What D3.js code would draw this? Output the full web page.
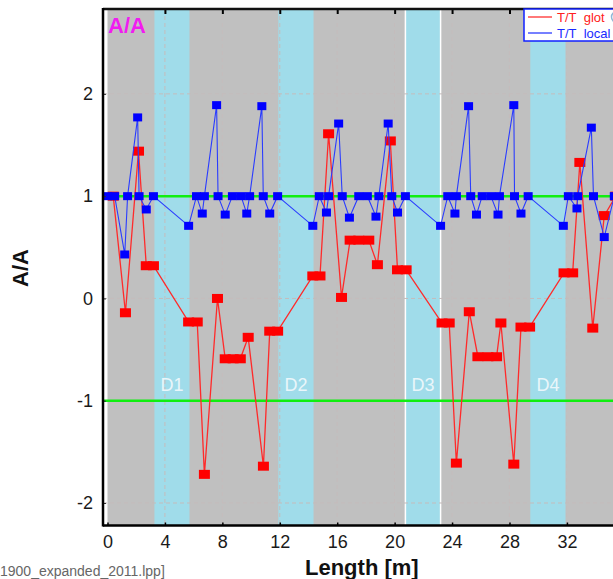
<!DOCTYPE html>
<html>
<head>
<meta charset="utf-8">
<script src="https://cdn.jsdelivr.net/npm/d3@7"></script>
<style>
  body { margin: 0; background: #fff; }
  svg { display: block; font-family: Arial, "Liberation Sans", sans-serif; }
</style>
</head>
<body>
<div id="container"></div>
<script>
// data
const xTicks = [0, 4, 8, 12, 16, 20, 24, 28, 32]
const yTicks = [-2, -1, 0, 1, 2]
const refLines = [1, -1]

const bandNames = ["D1", "D2", "D3", "D4"]
const bandStart = [3.27, 11.9, 20.75, 29.45]
const bandEnd = [5.71, 14.35, 23.2, 31.9]
const whiteLines = [20.75, 23.2]

// T/T glot (red)
const glotX = [0.4, 1.25, 2.16, 2.7, 3.2, 5.65, 6.25, 6.75, 7.66, 8.2, 8.75, 9.25, 9.8, 10.86, 11.3, 11.85,
  14.3, 14.8, 15.4, 16.3, 16.9, 17.5, 18.2, 18.8, 19.7, 20.2, 20.8, 23.3, 23.8, 24.3, 25.2, 25.8, 26.5,
  27.1, 27.4, 28.3, 28.8, 29.4, 31.8, 32.4, 32.9, 33.8, 34.6, 35.4]
const glotY = [1.0, -0.14, 1.44, 0.32, 0.32, -0.23, -0.23, -1.72, 0.0, -0.59, -0.59, -0.59, -0.38, -1.64, -0.32, -0.32,
  0.22, 0.22, 1.61, 0.01, 0.57, 0.57, 0.57, 0.33, 1.54, 0.28, 0.28, -0.24, -0.24, -1.61, -0.13, -0.57, -0.57,
  -0.57, -0.24, -1.62, -0.28, -0.28, 0.25, 0.25, 1.33, -0.29, 0.81, 1.0]

// T/T local (blue)
const localX = [0.0, 0.5, 1.2, 1.4, 2.1, 2.2, 2.7, 3.2, 5.65, 6.2, 6.6, 6.75, 7.6, 7.7, 8.2, 8.7, 9.3, 9.7, 9.9,
  10.75, 10.85, 11.3, 11.85, 14.3, 14.75, 15.25, 15.4, 16.1, 16.35, 16.85, 17.5, 18.1, 18.7, 18.9, 19.55, 19.8,
  20.2, 20.75, 23.2, 23.7, 24.2, 24.3, 25.15, 25.3, 25.7, 26.1, 26.7, 27.2, 27.3, 28.3, 28.35, 28.8, 29.3,
  31.75, 32.1, 32.7, 32.75, 33.7, 33.85, 34.6, 35.3]
const localY = [1.0, 1.0, 0.43, 1.0, 1.77, 1.0, 0.87, 1.0, 0.71, 1.0, 0.83, 1.0, 1.89, 1.0, 0.82, 1.0, 1.0, 0.83, 1.0,
  1.88, 1.0, 0.83, 1.0, 0.71, 1.0, 0.84, 1.0, 1.71, 1.0, 0.79, 1.0, 1.0, 0.8, 1.0, 1.71, 1.0,
  0.84, 1.0, 0.71, 1.0, 0.83, 1.0, 1.88, 1.0, 0.82, 1.0, 1.0, 0.82, 1.0, 1.89, 1.0, 0.83, 1.0,
  0.71, 1.0, 0.88, 1.0, 1.67, 1.0, 0.6, 1.0]

const width = 613, height = 579
const plotLeft = 103, plotTop = 9, plotBottom = 525.5

let svg = d3.select("#container").append("svg")
  .attr("width", width)
  .attr("height", height)

let x = d3.scaleLinear().domain([0, 36]).range([107.5, 107.5 + 36 * 14.357])
let y = d3.scaleLinear().domain([-2.22, 2.83]).range([plotBottom, plotTop])

//clip for plot area
svg.append("clipPath").attr("id", "plot")
  .append("rect").attr("x", plotLeft).attr("y", plotTop).attr("width", width - plotLeft).attr("height", plotBottom - plotTop)

let plot = svg.append("g").attr("clip-path", "url(#plot)")

//backgrounds
plot.append("rect")
  .attr("x", x(0)).attr("y", plotTop)
  .attr("width", width - x(0)).attr("height", plotBottom - plotTop)
  .attr("fill", "#c0c0c0")

plot.selectAll(".band")
  .data(bandNames)
  .enter().append("rect")
  .attr("x", (d, i) => x(bandStart[i]))
  .attr("y", plotTop)
  .attr("width", (d, i) => x(bandEnd[i]) - x(bandStart[i]))
  .attr("height", plotBottom - plotTop)
  .attr("fill", "#a0dcea")

plot.selectAll(".wline")
  .data(whiteLines)
  .enter().append("line")
  .attr("x1", d => x(d)).attr("x2", d => x(d))
  .attr("y1", plotTop).attr("y2", plotBottom)
  .attr("stroke", "#fff").attr("stroke-width", 1.5)

//grid
plot.selectAll(".vgrid")
  .data(xTicks.filter(d => d > 0))
  .enter().append("line")
  .attr("x1", d => x(d)).attr("x2", d => x(d))
  .attr("y1", plotTop).attr("y2", plotBottom)
  .attr("stroke", "#c4bcbc").attr("stroke-dasharray", "4,3")

plot.selectAll(".hgrid")
  .data(yTicks)
  .enter().append("line")
  .attr("x1", plotLeft).attr("x2", width)
  .attr("y1", d => y(d)).attr("y2", d => y(d))
  .attr("stroke", "#c4bcbc").attr("stroke-dasharray", "4,3")

//band labels
plot.selectAll(".blabel")
  .data(bandNames)
  .enter().append("text")
  .attr("x", (d, i) => x((bandStart[i] + bandEnd[i]) / 2))
  .attr("y", 391)
  .attr("text-anchor", "middle")
  .attr("font-size", 18)
  .attr("fill", "#eaf6fa")
  .text(d => d)

//green reference lines
plot.selectAll(".ref")
  .data(refLines)
  .enter().append("line")
  .attr("x1", plotLeft).attr("x2", width)
  .attr("y1", d => y(d)).attr("y2", d => y(d))
  .attr("stroke", "#10ee10").attr("stroke-width", 2.5)

//series
const glot = glotX.map((d, i) => [d, glotY[i]])
const local = localX.map((d, i) => [d, localY[i]])
let line = d3.line().x(d => x(d[0])).y(d => y(d[1]))

plot.append("path").datum(glot)
  .attr("d", line).attr("fill", "none")
  .attr("stroke", "#ff2a2a").attr("stroke-width", 1.3)

plot.selectAll(".gm")
  .data(glot)
  .enter().append("rect")
  .attr("x", d => x(d[0]) - 5.5).attr("y", d => y(d[1]) - 4.5)
  .attr("width", 11).attr("height", 9)
  .attr("fill", "#ff0000")

plot.append("path").datum(local)
  .attr("d", line).attr("fill", "none")
  .attr("stroke", "#2a3cff").attr("stroke-width", 1.1)

plot.selectAll(".lm")
  .data(local)
  .enter().append("rect")
  .attr("x", d => x(d[0]) - 4.5).attr("y", d => y(d[1]) - 4)
  .attr("width", 9).attr("height", 8)
  .attr("fill", "#0000ff")

//axes
svg.append("g")
  .attr("transform", `translate(0,${plotBottom})`)
  .call(d3.axisBottom(x).tickValues(xTicks).tickSizeInner(-3).tickSizeOuter(0).tickPadding(10))
  .call(g => g.select(".domain").remove())
  .call(g => g.selectAll("line").attr("stroke", "#000").attr("stroke-width", 1.5))
  .call(g => g.selectAll("text").attr("font-size", 18).attr("fill", "#1a1a1a").attr("font-family", "Arial, 'Liberation Sans', sans-serif"))

svg.append("g")
  .attr("transform", `translate(0,${plotTop})`)
  .call(d3.axisTop(x).tickValues(xTicks.filter(d => d > 0)).tickSizeInner(-5).tickSizeOuter(0).tickFormat(""))
  .call(g => g.select(".domain").remove())
  .call(g => g.selectAll("line").attr("stroke", "#000").attr("stroke-width", 2))

svg.append("g")
  .attr("transform", `translate(${plotLeft},0)`)
  .call(d3.axisLeft(y).tickValues(yTicks).tickFormat(d => String(d)).tickSizeInner(-3).tickSizeOuter(0).tickPadding(10))
  .call(g => g.select(".domain").remove())
  .call(g => g.selectAll("line").attr("stroke", "#333"))
  .call(g => g.selectAll("text").attr("font-size", 18).attr("fill", "#1a1a1a").attr("font-family", "Arial, 'Liberation Sans', sans-serif"))

//frame
svg.append("line").attr("x1", plotLeft).attr("x2", width).attr("y1", plotTop).attr("y2", plotTop)
  .attr("stroke", "#111").attr("stroke-width", 2.5)
svg.append("line").attr("x1", plotLeft).attr("x2", width).attr("y1", plotBottom).attr("y2", plotBottom)
  .attr("stroke", "#000").attr("stroke-width", 2.5)
svg.append("line").attr("x1", plotLeft).attr("x2", plotLeft).attr("y1", plotTop - 1).attr("y2", plotBottom + 1)
  .attr("stroke", "#000").attr("stroke-width", 2.5)

//titles
svg.append("text")
  .attr("x", 108).attr("y", 33)
  .attr("font-size", 22).attr("font-weight", "bold")
  .attr("fill", "#f01cf0")
  .text("A/A")

svg.append("text")
  .attr("transform", "translate(28,268) rotate(-90)")
  .attr("text-anchor", "middle")
  .attr("font-size", 22).attr("font-weight", "bold")
  .attr("fill", "#111")
  .text("A/A")

svg.append("text")
  .attr("x", 305).attr("y", 575)
  .attr("font-size", 22).attr("font-weight", "bold")
  .attr("fill", "#111")
  .text("Length [m]")

svg.append("text")
  .attr("x", 0).attr("y", 576)
  .attr("font-size", 14)
  .attr("fill", "#666")
  .text("1900_expanded_2011.lpp]")

//legend
let legend = svg.append("g")
legend.append("rect")
  .attr("x", 524).attr("y", 9).attr("width", 110).attr("height", 32)
  .attr("fill", "#fff").attr("stroke", "#1020ff").attr("stroke-width", 1.5)
const legNames = ["T/T\u00a0\u00a0glot", "T/T\u00a0\u00a0local"]
const legColors = ["#ff2020", "#1a2aff"]
legend.selectAll(".ll")
  .data(legNames)
  .enter().append("line")
  .attr("x1", 528).attr("x2", 552)
  .attr("y1", (d, i) => 17 + i * 16).attr("y2", (d, i) => 17 + i * 16)
  .attr("stroke", (d, i) => legColors[i]).attr("stroke-width", 1.2)
legend.selectAll(".lt")
  .data(legNames)
  .enter().append("text")
  .attr("x", 557).attr("y", (d, i) => 22 + i * 16)
  .attr("font-size", 13)
  .attr("fill", (d, i) => legColors[i])
  .text(d => d)
legend.append("circle")
  .attr("cx", 617).attr("cy", 17).attr("r", 5.5)
  .attr("fill", "none").attr("stroke", "#8fb8d8").attr("stroke-width", 1.5)
</script>
</body>
</html>
